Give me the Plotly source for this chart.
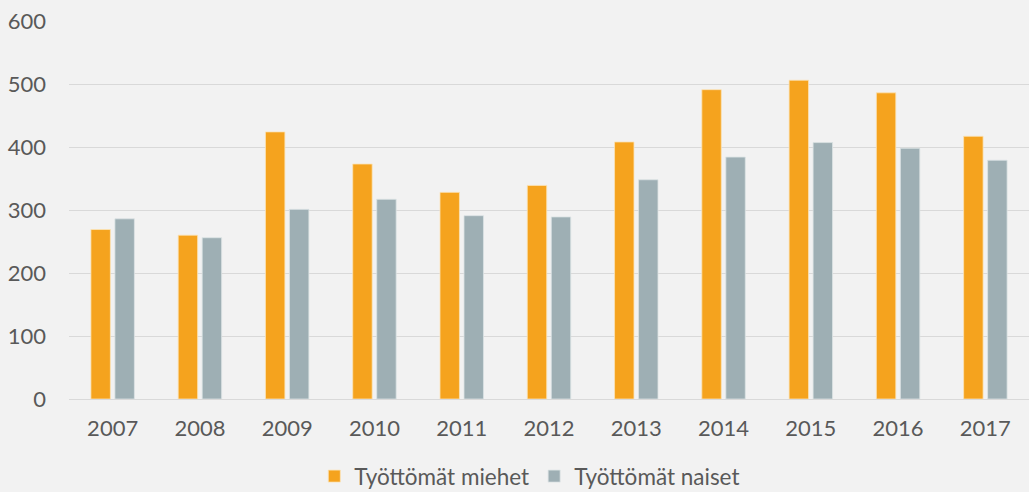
import plotly.graph_objects as go

years = ["2007", "2008", "2009", "2010", "2011", "2012", "2013", "2014", "2015", "2016", "2017"]
miehet = [269, 260, 424, 373, 328, 339, 408, 491, 506, 486, 417]
naiset = [286, 256, 301, 317, 291, 289, 348, 384, 407, 398, 379]

series_names = ["Työttömät miehet", "Työttömät naiset"]
orange = "#F5A31E"
grey = "#9EAFB4"
text_col = "#595959"
font_family = "Lato, 'Open Sans', sans-serif"

fig = go.Figure()
fig.add_trace(go.Bar(
    x=years, y=miehet, name=series_names[0],
    marker=dict(color=orange, line=dict(color="#FBE3B8", width=0.8)),
))
fig.add_trace(go.Bar(
    x=years, y=naiset, name=series_names[1],
    marker=dict(color=grey, line=dict(color="#DCE3E5", width=0.8)),
))

fig.update_layout(
    width=1029, height=492,
    margin=dict(l=69, r=0, t=21, b=93, autoexpand=False),
    paper_bgcolor="#F2F2F2",
    plot_bgcolor="#F2F2F2",
    barmode="group",
    bargap=0.45,
    bargroupgap=0.19,
    font=dict(family=font_family, color=text_col, size=22),
    showlegend=True,
    legend=dict(
        orientation="h",
        x=0.48, xanchor="center",
        y=-0.205, yanchor="middle",
        font=dict(size=22.5, color=text_col),
        itemwidth=30,
        tracegroupgap=0,
        traceorder="normal",
        bgcolor="rgba(0,0,0,0)",
    ),
)

fig.update_xaxes(
    showgrid=False, zeroline=False, showline=False,
    ticks="", tickfont=dict(size=22, color=text_col),
    ticklabelstandoff=14,
)
fig.update_yaxes(
    range=[0, 600], tickvals=[0, 100, 200, 300, 400, 500, 600],
    showgrid=True, gridcolor="#D9D9D9", gridwidth=1.3,
    zeroline=True, zerolinecolor="#D9D9D9", zerolinewidth=1.3,
    showline=False, ticks="",
    tickfont=dict(size=22, color=text_col),
    ticklabelstandoff=22,
)

fig.write_html("out.html")
